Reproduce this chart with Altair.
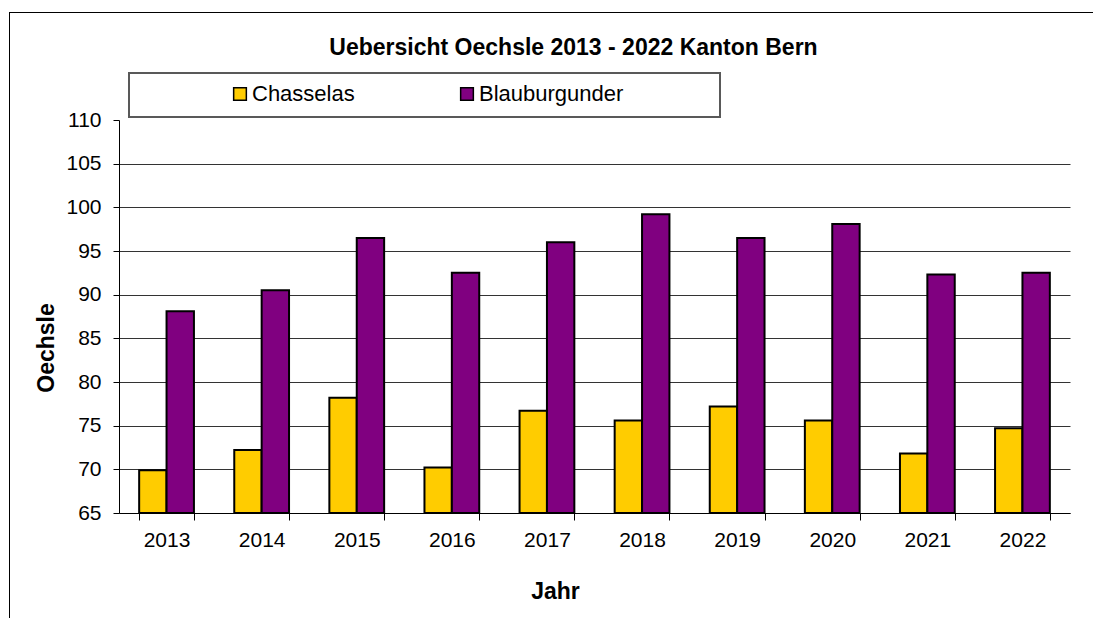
import altair as alt
import pandas as pd

# ---- data ----
years = ["2013", "2014", "2015", "2016", "2017", "2018", "2019", "2020", "2021", "2022"]
chasselas = [69.9, 72.2, 78.2, 70.2, 76.7, 75.6, 77.2, 75.6, 71.8, 74.7]
blauburgunder = [88.1, 90.5, 96.5, 92.5, 96.0, 99.2, 96.5, 98.1, 92.3, 92.5]
series = ["Chasselas", "Blauburgunder"]
colors = ["#FFCC00", "#800080"]
y_ticks = [65, 70, 75, 80, 85, 90, 95, 100, 105, 110]
y_min, y_max = 65, 110
title_text = "Uebersicht Oechsle 2013 - 2022  Kanton Bern"

rows = []
for i, yr in enumerate(years):
    rows.append({"Jahr": yr, "Sorte": series[0], "Oechsle": chasselas[i]})
    rows.append({"Jahr": yr, "Sorte": series[1], "Oechsle": blauburgunder[i]})
df = pd.DataFrame(rows)

FONT = "Liberation Sans, Arial, sans-serif"
W, H = 951, 393

yscale = alt.Scale(domain=[y_min, y_max], zero=False, nice=False)
one = pd.DataFrame({"k": [0]})

# outer frame (left and top edge visible in reference)
frame_top = alt.Chart(one).mark_rule(color="black", strokeWidth=1).encode(
    x=alt.value(-109), x2=alt.value(1000), y=alt.value(-107.5)
)
frame_left = alt.Chart(one).mark_rule(color="black", strokeWidth=1).encode(
    x=alt.value(-109.5), y=alt.value(-108), y2=alt.value(600)
)

# legend box
legend_box = alt.Chart(one).mark_rect(filled=False, stroke="#595959", strokeWidth=2).encode(
    x=alt.value(10), x2=alt.value(601), y=alt.value(-47), y2=alt.value(-3)
)

bars = alt.Chart(df).mark_bar(stroke="black", strokeWidth=2).encode(
    x=alt.X(
        "Jahr:N",
        sort=years,
        scale=alt.Scale(paddingInner=0.424, paddingOuter=0.212),
        axis=alt.Axis(
            title="Jahr",
            titleFont=FONT, titleFontSize=23, titleFontWeight="bold", titleColor="black",
            titleX=436, titleY=85, titleBaseline="alphabetic", titleAlign="center",
            labelFont=FONT, labelFontSize=21, labelColor="black", labelAngle=0,
            labelPadding=9, tickSize=7, tickColor="black", tickWidth=1,
            domainColor="black", domainWidth=1, tickBand="extent", grid=False,
        ),
    ),
    xOffset=alt.XOffset("Sorte:N", sort=series, scale=alt.Scale(paddingInner=0, paddingOuter=0)),
    y=alt.Y(
        "Oechsle:Q",
        scale=yscale,
        axis=alt.Axis(
            title="Oechsle",
            titleFont=FONT, titleFontSize=23, titleFontWeight="bold", titleColor="black",
            titleX=-66, titleY=227.5, titleBaseline="alphabetic", titleAlign="center",
            values=y_ticks,
            labelFont=FONT, labelFontSize=21, labelColor="black",
            labelPadding=12, tickSize=6, tickColor="black", tickWidth=1,
            domainColor="black", domainWidth=1,
            grid=True, gridColor="#333333", gridWidth=1,
            gridOpacity={"condition": {"test": "datum.value >= 110", "value": 0}, "value": 1},
        ),
    ),
    y2=alt.datum(y_min),
    color=alt.Color(
        "Sorte:N",
        sort=series,
        scale=alt.Scale(domain=series, range=colors),
        legend=alt.Legend(
            title=None, orient="none", legendX=110, legendY=-37, direction="horizontal",
            symbolType="square", symbolSize=161, symbolStrokeColor="black",
            symbolStrokeWidth=1.5, symbolOpacity=1,
            labelFont=FONT, labelFontSize=22, labelColor="black", labelOffset=1,
            columnPadding=101, padding=0,
        ),
    ),
)

chart = alt.layer(frame_top, frame_left, legend_box, bars).properties(
    width=W,
    height=H,
    padding={"left": 111, "top": 112, "right": 23, "bottom": 105},
    autosize=alt.AutoSizeParams(type="none"),
    title=alt.Title(
        title_text, font=FONT, fontSize=23, fontWeight="bold", color="black",
        anchor="middle", dx=-21, offset=0, dy=66.5, baseline="alphabetic",
    ),
).configure_view(strokeWidth=0)

chart.save("out.html", embed_options={"renderer": "svg", "actions": False})
